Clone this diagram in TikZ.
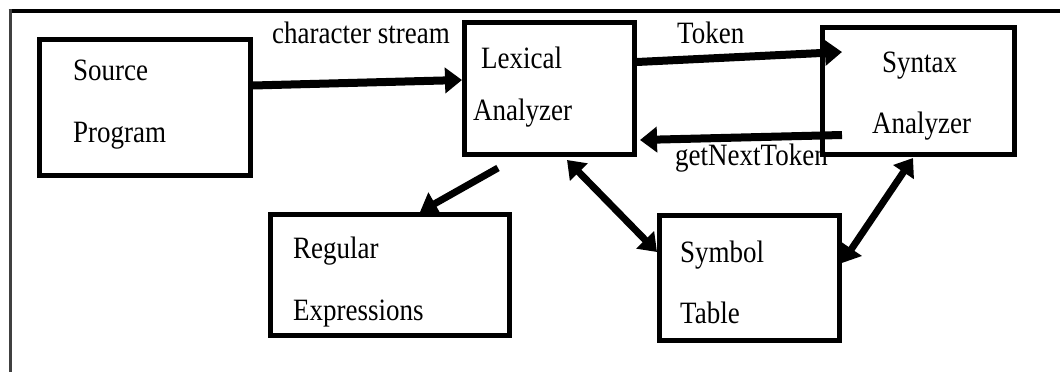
\documentclass[tikz,border=0pt]{standalone}
\usepackage{fontspec}
\setmainfont{Liberation Serif}
\usetikzlibrary{arrows.meta}
% slightly tall lettering
\newcommand{\tall}[1]{\scalebox{1}[1.15]{#1}}
\tikzset{
  blk/.style={draw=black, line width=5pt, fill=white, inner sep=0pt},
  txt/.style={inner sep=0pt, anchor=base west, font=\fontsize{27pt}{30pt}\selectfont},
  flow/.style={line width=8pt, -{Triangle[length=17pt,width=25pt]}},
  both/.style={line width=7pt, {Triangle[length=17pt,width=24pt]}-{Triangle[length=17pt,width=24pt]}},
}
\begin{document}
\begin{tikzpicture}[x=1pt,y=-1pt]
\useasboundingbox (0,0) rectangle (1060,372);
\fill[white] (0,0) rectangle (1060,372);
% frame
\draw[line width=4pt] (8.5,10.5) -- (1060,10.5);
\draw[line width=3pt, black!75] (10,9) -- (10,372);

% boxes
\node[blk, minimum width=211pt, minimum height=136pt] (src) at (145,107.5) {};
\node[blk, minimum width=170pt, minimum height=132pt] (lex) at (549.5,88.5) {};
\node[blk, minimum width=192pt, minimum height=127pt] (syn) at (918.5,91) {};
\node[blk, minimum width=239pt, minimum height=121pt] (reg) at (390,275) {};
\node[blk, minimum width=180pt, minimum height=125pt] (sym) at (749.5,278) {};

% box texts
\node[txt] (srcA) at (73,80) {\tall{Source}};
\node[txt] (srcB) at (73,142) {\tall{Program}};
\node[txt] (lexA) at (481,68) {\tall{Lexical}};
\node[txt] (lexB) at (473,120) {\tall{Analyzer}};
\node[txt] (synA) at (882,72) {\tall{Syntax}};
\node[txt] (synB) at (872,133) {\tall{Analyzer}};
\node[txt] (regA) at (293,258) {\tall{Regular}};
\node[txt] (regB) at (293,320) {\tall{Expressions}};
\node[txt] (symA) at (680,262) {\tall{Symbol}};
\node[txt] (symB) at (680,323) {\tall{Table}};

% connectors
\draw[flow] ([yshift=22pt]src.east) -- ([yshift=8.5pt]lex.west);
\draw[flow] ([yshift=26.5pt]lex.east) -- ([xshift=22pt,yshift=39pt]syn.west);
\draw[flow] ([xshift=22pt,yshift=-44pt]syn.west) -- ([xshift=3pt,yshift=-51.5pt]lex.east);
\draw[flow, line width=7pt] ([xshift=-51.5pt,yshift=-11pt]lex.south) -- ([xshift=30pt]reg.north);
\draw[both] ([xshift=17.5pt,yshift=-3pt]lex.south) -- ([yshift=26pt]sym.west);
\draw[both] ([xshift=-5.5pt,yshift=-1pt]syn.south) -- ([yshift=15pt]sym.east);

% connector labels
\node[txt] (lblA) at (272,43) {\tall{character stream}};
\node[txt] (lblB) at (677,43) {\tall{Token}};
\node[txt] (lblC) at (675,165) {\tall{getNextToken}};
\end{tikzpicture}
\end{document}
